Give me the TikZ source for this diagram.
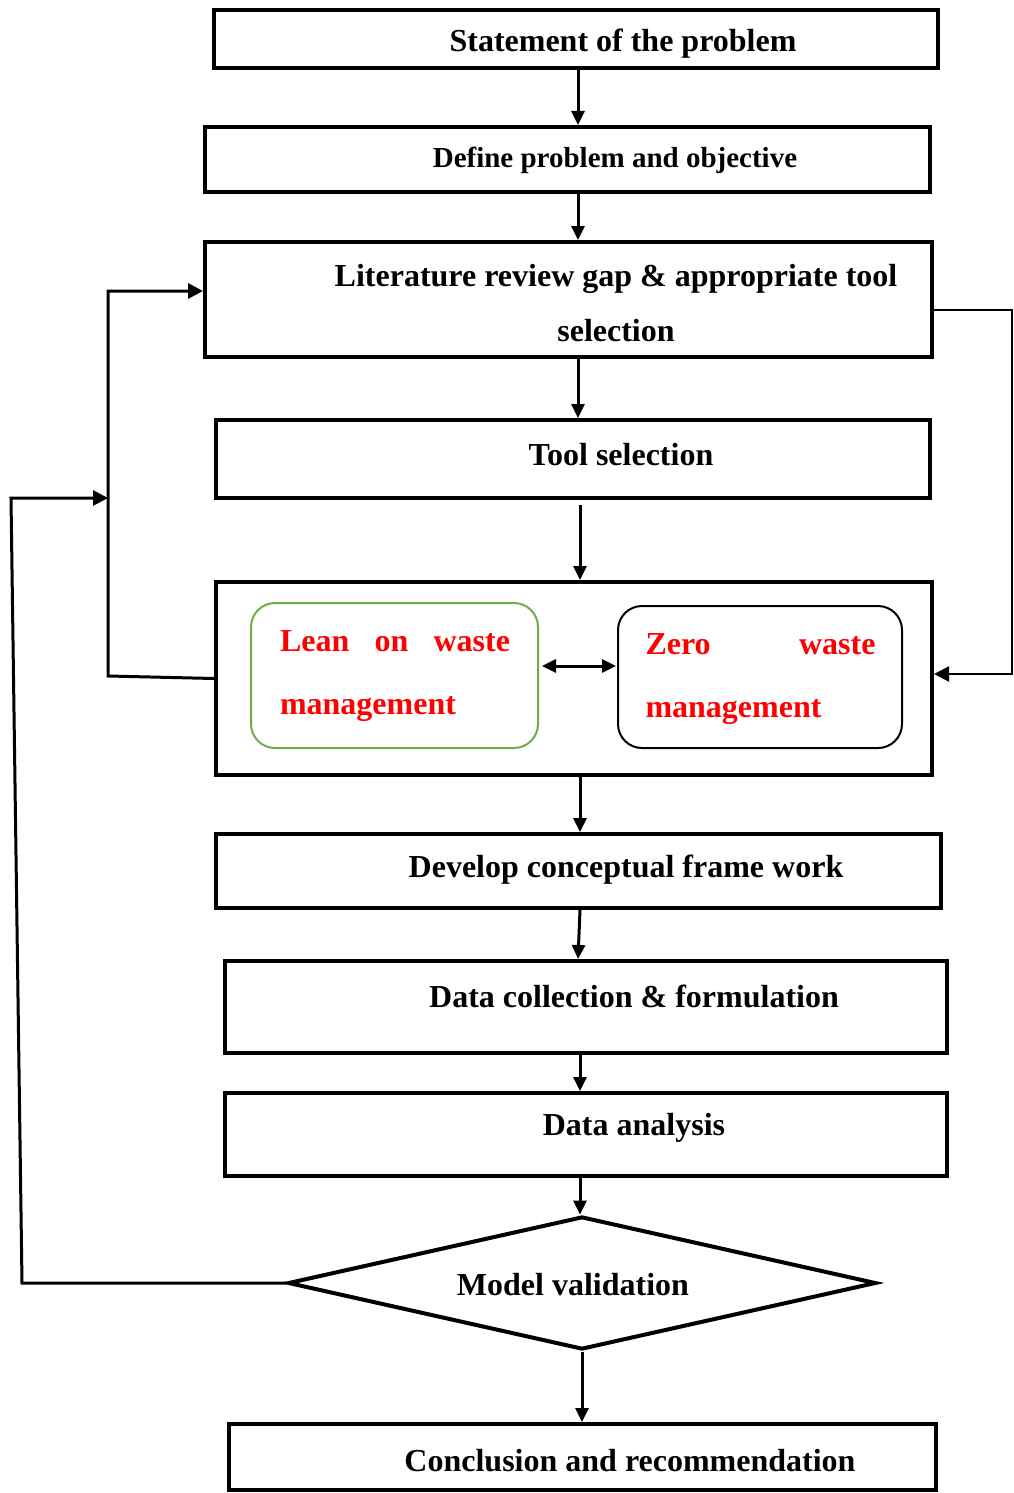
\documentclass[tikz,border=0pt]{standalone}
\usepackage{fontspec}
\setmainfont{Liberation Serif}
\usetikzlibrary{arrows.meta,shapes.geometric}
\definecolor{leangreen}{RGB}{112,173,71}
\tikzset{
  stepbox/.style={
    draw,
    line width = 2pt,
    inner sep = 0pt
  },
  wastebox/.style={
    draw,
    rounded corners = 12pt,
    line width = 1pt,
    inner sep = 0pt
  },
  boxtext/.style={
    font = \bfseries\fontsize{16}{19}\selectfont,
    inner sep = 0pt
  },
  wastetext/.style={
    text = red,
    text width = 115pt,
    align = left,
    font = \bfseries\fontsize{16}{31.5}\selectfont,
    inner sep = 0pt
  },
  flow/.style={
    line width = 1.5pt,
    -{Triangle[length=7pt,width=6.5pt]}
  },
  feedback/.style={
    line width = 1.5pt,
    -{Triangle[length=7.5pt,width=7.5pt]}
  }
}

\begin{document}
\begin{tikzpicture}[x=0.5pt,y=-0.5pt]
  \useasboundingbox (0,0) rectangle (1013,1493);

  % main column
  \node[stepbox, minimum width=362pt, minimum height=29pt] (stmt) at (576,39) {};
  \node[boxtext] (stmt-t) at (623,44) {Statement of the problem};
  \node[stepbox, minimum width=362.5pt, minimum height=32.5pt] (defn) at (567.5,159.5) {};
  \node[boxtext, font=\bfseries\fontsize{14.5}{17}\selectfont] (defn-t) at (615,160) {Define problem and objective};
  \node[stepbox, minimum width=363.5pt, minimum height=57.5pt] (lit) at (568.5,299.5) {};
  \node[boxtext, align=center, font=\bfseries\fontsize{16}{27.5}\selectfont] (lit-t) at (616,303) {Literature review gap \& appropriate tool\\selection};
  \node[stepbox, minimum width=357pt, minimum height=39pt] (tool) at (573,459) {};
  \node[boxtext] (tool-t) at (621,455) {Tool selection};

  \node[stepbox, minimum width=358pt, minimum height=96.5pt] (big) at (574,678.5) {};
  \node[wastebox, draw=leangreen, minimum width=143.5pt, minimum height=72.5pt] (lean) at (394.5,675.5) {};
  \node[wastetext] (lean-t) at (395,676.5) {Lean\hfill on\hfill waste\\management};
  \node[wastebox, minimum width=142pt, minimum height=71pt] (zero) at (760,677) {};
  \node[wastetext] (zero-t) at (760.5,679.5) {Zero\hfill waste\\management};

  \node[stepbox, minimum width=362.5pt, minimum height=37pt] (dev) at (578.5,871) {};
  \node[boxtext] (dev-t) at (626,870) {Develop conceptual frame work};
  \node[stepbox, minimum width=361pt, minimum height=46pt] (coll) at (586,1007) {};
  \node[boxtext] (coll-t) at (634,996) {Data collection \& formulation};
  \node[stepbox, minimum width=361pt, minimum height=41.5pt] (anal) at (586,1134.5) {};
  \node[boxtext] (anal-t) at (634,1128) {Data analysis};
  \node[stepbox, diamond, minimum width=294pt, minimum height=66.5pt] (val) at (582,1283) {};
  \node[boxtext] (val-t) at (573,1285) {Model validation};
  \node[stepbox, minimum width=353.5pt, minimum height=33pt] (conc) at (582.5,1457) {};
  \node[boxtext] (conc-t) at (630,1461) {Conclusion and recommendation};

  % arrows down
  \coordinate (c1) at (578,0);
  \coordinate (c2) at (580,0);
  \draw[flow] (c1 |- stmt.south) -- (c1 |- defn.north);
  \draw[flow] (c1 |- defn.south) -- (c1 |- lit.north);
  \draw[flow] (c1 |- lit.south) -- (c1 |- tool.north);
  \draw[flow, shorten <=2.5pt] (c2 |- tool.south) -- (c2 |- big.north);
  \draw[flow] (c2 |- big.south) -- (c2 |- dev.north);
  \draw[flow] (c2 |- dev.south) -- (c1 |- coll.north);
  \draw[flow] (c2 |- coll.south) -- (c2 |- anal.north);
  \draw[flow] (c2 |- anal.south) -- (c2 |- val.north);
  \draw[flow] (val.south) -- (val.south |- conc.north);

  % between the two wastes
  \coordinate (mid) at (578,666);
  \draw[line width=1.5pt, {Triangle[length=7pt,width=6.5pt]}-{Triangle[length=7pt,width=6.5pt]}, shorten <=1.5pt, shorten >=0.5pt] (mid -| lean.east) -- (mid -| zero.west);

  % feedback loops
  \coordinate (lk1) at (108,676);
  \coordinate (lk2) at (108,291);
  \draw[feedback] (big.west) -- (lk1) -- (lk2) -- (lk2 -| lit.west);
  \coordinate (lk3) at (22,1283);
  \coordinate (lk4) at (11,498);
  \draw[feedback] (val.west) -- (lk3) -- (lk4) -- (lk1 |- lk4);
  \coordinate (rk1) at (1012,310);
  \coordinate (rk2) at (1012,674);
  \draw[feedback, line width=1pt] (rk1 -| lit.east) -- (rk1) -- (rk2) -- (rk2 -| big.east);
\end{tikzpicture}
\end{document}
